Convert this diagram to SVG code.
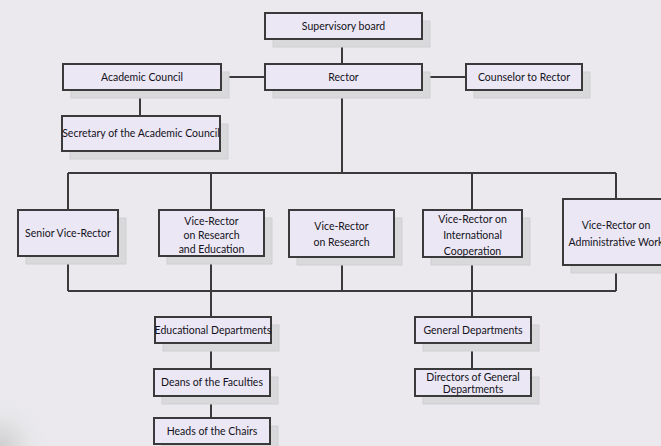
<svg xmlns="http://www.w3.org/2000/svg" width="661" height="446" viewBox="0 0 661 446">
<defs>
<radialGradient id="corner" cx="0" cy="446" r="60" gradientUnits="userSpaceOnUse">
<stop offset="0" stop-color="#cfcfd2"/>
<stop offset="0.5" stop-color="#e6e6e9"/>
<stop offset="1" stop-color="#ebe9ee" stop-opacity="0"/>
</radialGradient>
<style>
.sh{fill:#d9d9db;stroke:#cfcfd1;stroke-width:1}
.bx{fill:#ebe7f5;stroke:#3a3a3a;stroke-width:2}
.t{font-family:Lato,"Liberation Sans",sans-serif;font-size:10.5px;fill:#141220;text-anchor:middle}
.c{fill:none;stroke:#3a3a3a;stroke-width:2}
</style>
</defs>
<rect width="661" height="446" fill="#ebe9ee"/>
<rect x="0" y="386" width="60" height="60" fill="url(#corner)"/>
<g id="connectors">
<path class="c" d="M342 39V64M221 77H265M422 77H466M140 90V116M342 90V173M68 173H616M68 173V210M211 173V210M472 173V210M616 173V199M68 256V291M211 256V291M342 256V291M472 257V291M616 265V291M68 291H616M211 291V317M472 291V317M211 343V369M211 396V418M472 343V369"/>
</g>
<g id="supervisory"><rect class="sh" x="273" y="21" width="157" height="26"/><rect class="bx" x="265" y="13" width="157" height="26"/><text class="t" x="343.5" y="29.5">Supervisory board</text></g>
<g id="rector"><rect class="sh" x="273" y="72" width="157" height="26"/><rect class="bx" x="265" y="64" width="157" height="26"/><text class="t" x="343.5" y="80.5">Rector</text></g>
<g id="academic"><rect class="sh" x="71" y="72" width="158" height="26"/><rect class="bx" x="63" y="64" width="158" height="26"/><text class="t" x="142" y="80.5">Academic Council</text></g>
<g id="secretary"><rect class="sh" x="70" y="124" width="158" height="35"/><rect class="bx" x="62" y="116" width="158" height="35"/><text class="t" x="141" y="136.5">Secretary of the Academic Council</text></g>
<g id="counselor"><rect class="sh" x="474" y="72" width="116" height="26"/><rect class="bx" x="466" y="64" width="116" height="26"/><text class="t" x="524" y="80.5">Counselor to Rector</text></g>
<g id="senior"><rect class="sh" x="26" y="218" width="100" height="46"/><rect class="bx" x="18" y="210" width="100" height="46"/><text class="t" x="68" y="236.5">Senior Vice-Rector</text></g>
<g id="vr-research-education"><rect class="sh" x="167" y="218" width="105" height="46"/><rect class="bx" x="159" y="210" width="105" height="46"/><text class="t" x="211.5" y="225">Vice-Rector</text><text class="t" x="211.5" y="239">on Research</text><text class="t" x="211.5" y="252.5">and Education</text></g>
<g id="vr-research"><rect class="sh" x="297" y="218" width="105" height="47"/><rect class="bx" x="289" y="210" width="105" height="47"/><text class="t" x="341.5" y="230">Vice-Rector</text><text class="t" x="341.5" y="246">on Research</text></g>
<g id="vr-international"><rect class="sh" x="431" y="218" width="99" height="47"/><rect class="bx" x="423" y="210" width="99" height="47"/><text class="t" x="472.5" y="223">Vice-Rector on</text><text class="t" x="472.5" y="238.5">International</text><text class="t" x="472.5" y="254.5">Cooperation</text></g>
<g id="vr-administrative"><rect class="sh" x="571" y="207" width="110" height="66"/><rect class="bx" x="563" y="199" width="110" height="66"/><text class="t" x="616" y="229">Vice-Rector on</text><text class="t" x="616" y="246">Administrative Work</text></g>
<g id="educational"><rect class="sh" x="163" y="325" width="116" height="26"/><rect class="bx" x="155" y="317" width="116" height="26"/><text class="t" x="213" y="333.5">Educational Departments</text></g>
<g id="deans"><rect class="sh" x="162" y="377" width="116" height="27"/><rect class="bx" x="154" y="369" width="116" height="27"/><text class="t" x="212" y="386">Deans of the Faculties</text></g>
<g id="heads"><rect class="sh" x="162" y="426" width="116" height="26"/><rect class="bx" x="154" y="418" width="116" height="26"/><text class="t" x="212" y="435">Heads of the Chairs</text></g>
<g id="general"><rect class="sh" x="423" y="325" width="116" height="26"/><rect class="bx" x="415" y="317" width="116" height="26"/><text class="t" x="473" y="333.5">General Departments</text></g>
<g id="directors"><rect class="sh" x="423" y="377" width="116" height="27"/><rect class="bx" x="415" y="369" width="116" height="27"/><text class="t" x="473" y="380.5">Directors of General</text><text class="t" x="473" y="393">Departments</text></g>
</svg>
